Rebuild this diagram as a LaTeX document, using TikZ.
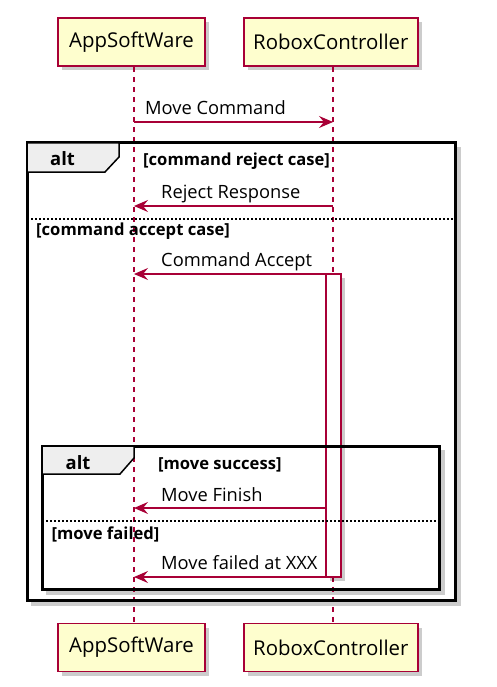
\documentclass[tikz,border=0pt]{standalone}
\usepackage{fontspec}
\setmainfont{Open Sans}
\usetikzlibrary{arrows.meta,shadows}
\definecolor{pborder}{HTML}{A80036}
\definecolor{pfill}{HTML}{FEFECE}
\definecolor{tabfill}{HTML}{EEEEEE}
\tikzset{
  partbox/.style={draw=pborder, fill=pfill, line width=1.6pt, inner sep=0pt,
    minimum height=48pt, font=\fontsize{20.4}{23}\selectfont,
    drop shadow={shadow xshift=4pt, shadow yshift=-4pt, fill=black, opacity=0.2}},
  lifeline/.style={draw=pborder, line width=1.3pt, dash pattern=on 5pt off 5pt},
  msg/.style={draw=pborder, line width=1.3pt, -{Stealth[length=14pt, width=12pt, inset=5pt]}},
  msgtext/.style={anchor=base west, inner sep=0pt, font=\fontsize{18.3}{21}\selectfont},
  guardtext/.style={anchor=base west, inner sep=0pt, font=\fontsize{16.6}{19}\selectfont\bfseries},
  alttext/.style={anchor=base west, inner sep=0pt, font=\fontsize{18.4}{21}\selectfont\bfseries},
  framebox/.style={draw=black, line width=3pt},
  frameshadow/.style={draw=black, opacity=0.2, line width=4pt},
  tabshape/.style={draw=black, fill=tabfill, line width=1.5pt},
  separator/.style={draw=black, line width=1.1pt, dash pattern=on 2pt off 2pt},
  actbox/.style={draw=pborder, fill=white, line width=1.3pt, inner sep=0pt,
    drop shadow={shadow xshift=4pt, shadow yshift=-4pt, fill=black, opacity=0.2}}
}
\begin{document}
\begin{tikzpicture}[x=1pt,y=-1pt]
\useasboundingbox (0,0) rectangle (496,687);

% participants
\node[partbox, minimum width=147pt] (at) at (131.5,42) {AppSoftWare};
\node[partbox, minimum width=174pt] (rt) at (330.8,42) {RoboxController};
\node[partbox, minimum width=147pt] (ab) at (131.5,647.5) {AppSoftWare};
\node[partbox, minimum width=174pt] (rb) at (330.8,647.5) {RoboxController};

% message anchor points
\coordinate (a0) at (134,122); \coordinate (r0) at (333,122);
\coordinate (a1) at (134,206); \coordinate (r1) at (333,206);
\coordinate (a2) at (134,274);
\coordinate (a3) at (134,508);
\coordinate (a4) at (134,577);

% frame shadows
\draw[frameshadow] (31,604) -- (459,604) -- (459,147);
\draw[frameshadow] (46,593) -- (443,593) -- (443,450);

% lifelines
\draw[lifeline] (at.south -| a0) -- (ab.north -| a0);
\draw[lifeline] (rt.south -| r0) -- (rb.north -| r0);

% activation
\node[actbox, minimum width=15pt, minimum height=303pt] (act) at (333.5,425.5) {};

% outer alt frame
\draw[framebox] (27,143) rectangle (455,600);
\draw[tabshape] (27,143) -- (119,143) -- (119,157) -- (105,172) -- (27,172) -- cycle;
\node[alttext] (alt1) at (50,165.5) {alt};
\node[guardtext] (g1) at (143,165) {[command reject case]};
\draw[separator] (27,219) -- (455,219);
\node[guardtext] (g2) at (36,235) {[command accept case]};

% inner alt frame
\draw[framebox] (42,446) rectangle (439,589);
\draw[tabshape] (42,446) -- (134,446) -- (134,458) -- (120,474) -- (42,474) -- cycle;
\node[alttext] (alt2) at (65.5,469) {alt};
\node[guardtext] (g3) at (158,469) {[move success]};
\draw[separator] (42,521) -- (439,521);
\node[guardtext] (g4) at (51.5,539) {[move failed]};

% messages
\draw[msg] (a0) -- (r0);
\node[msgtext] (t0) at (145,115) {Move Command};
\draw[msg] (r1) -- (a1);
\node[msgtext] (t1) at (161,198.5) {Reject Response};
\draw[msg] (act.west |- a2) -- (a2);
\node[msgtext] (t2) at (161,266.5) {Command Accept};
\draw[msg] (act.west |- a3) -- (a3);
\node[msgtext] (t3) at (161,501) {Move Finish};
\draw[msg] (act.west |- a4) -- (a4);
\node[msgtext] (t4) at (161,569) {Move failed at XXX};
\end{tikzpicture}
\end{document}
